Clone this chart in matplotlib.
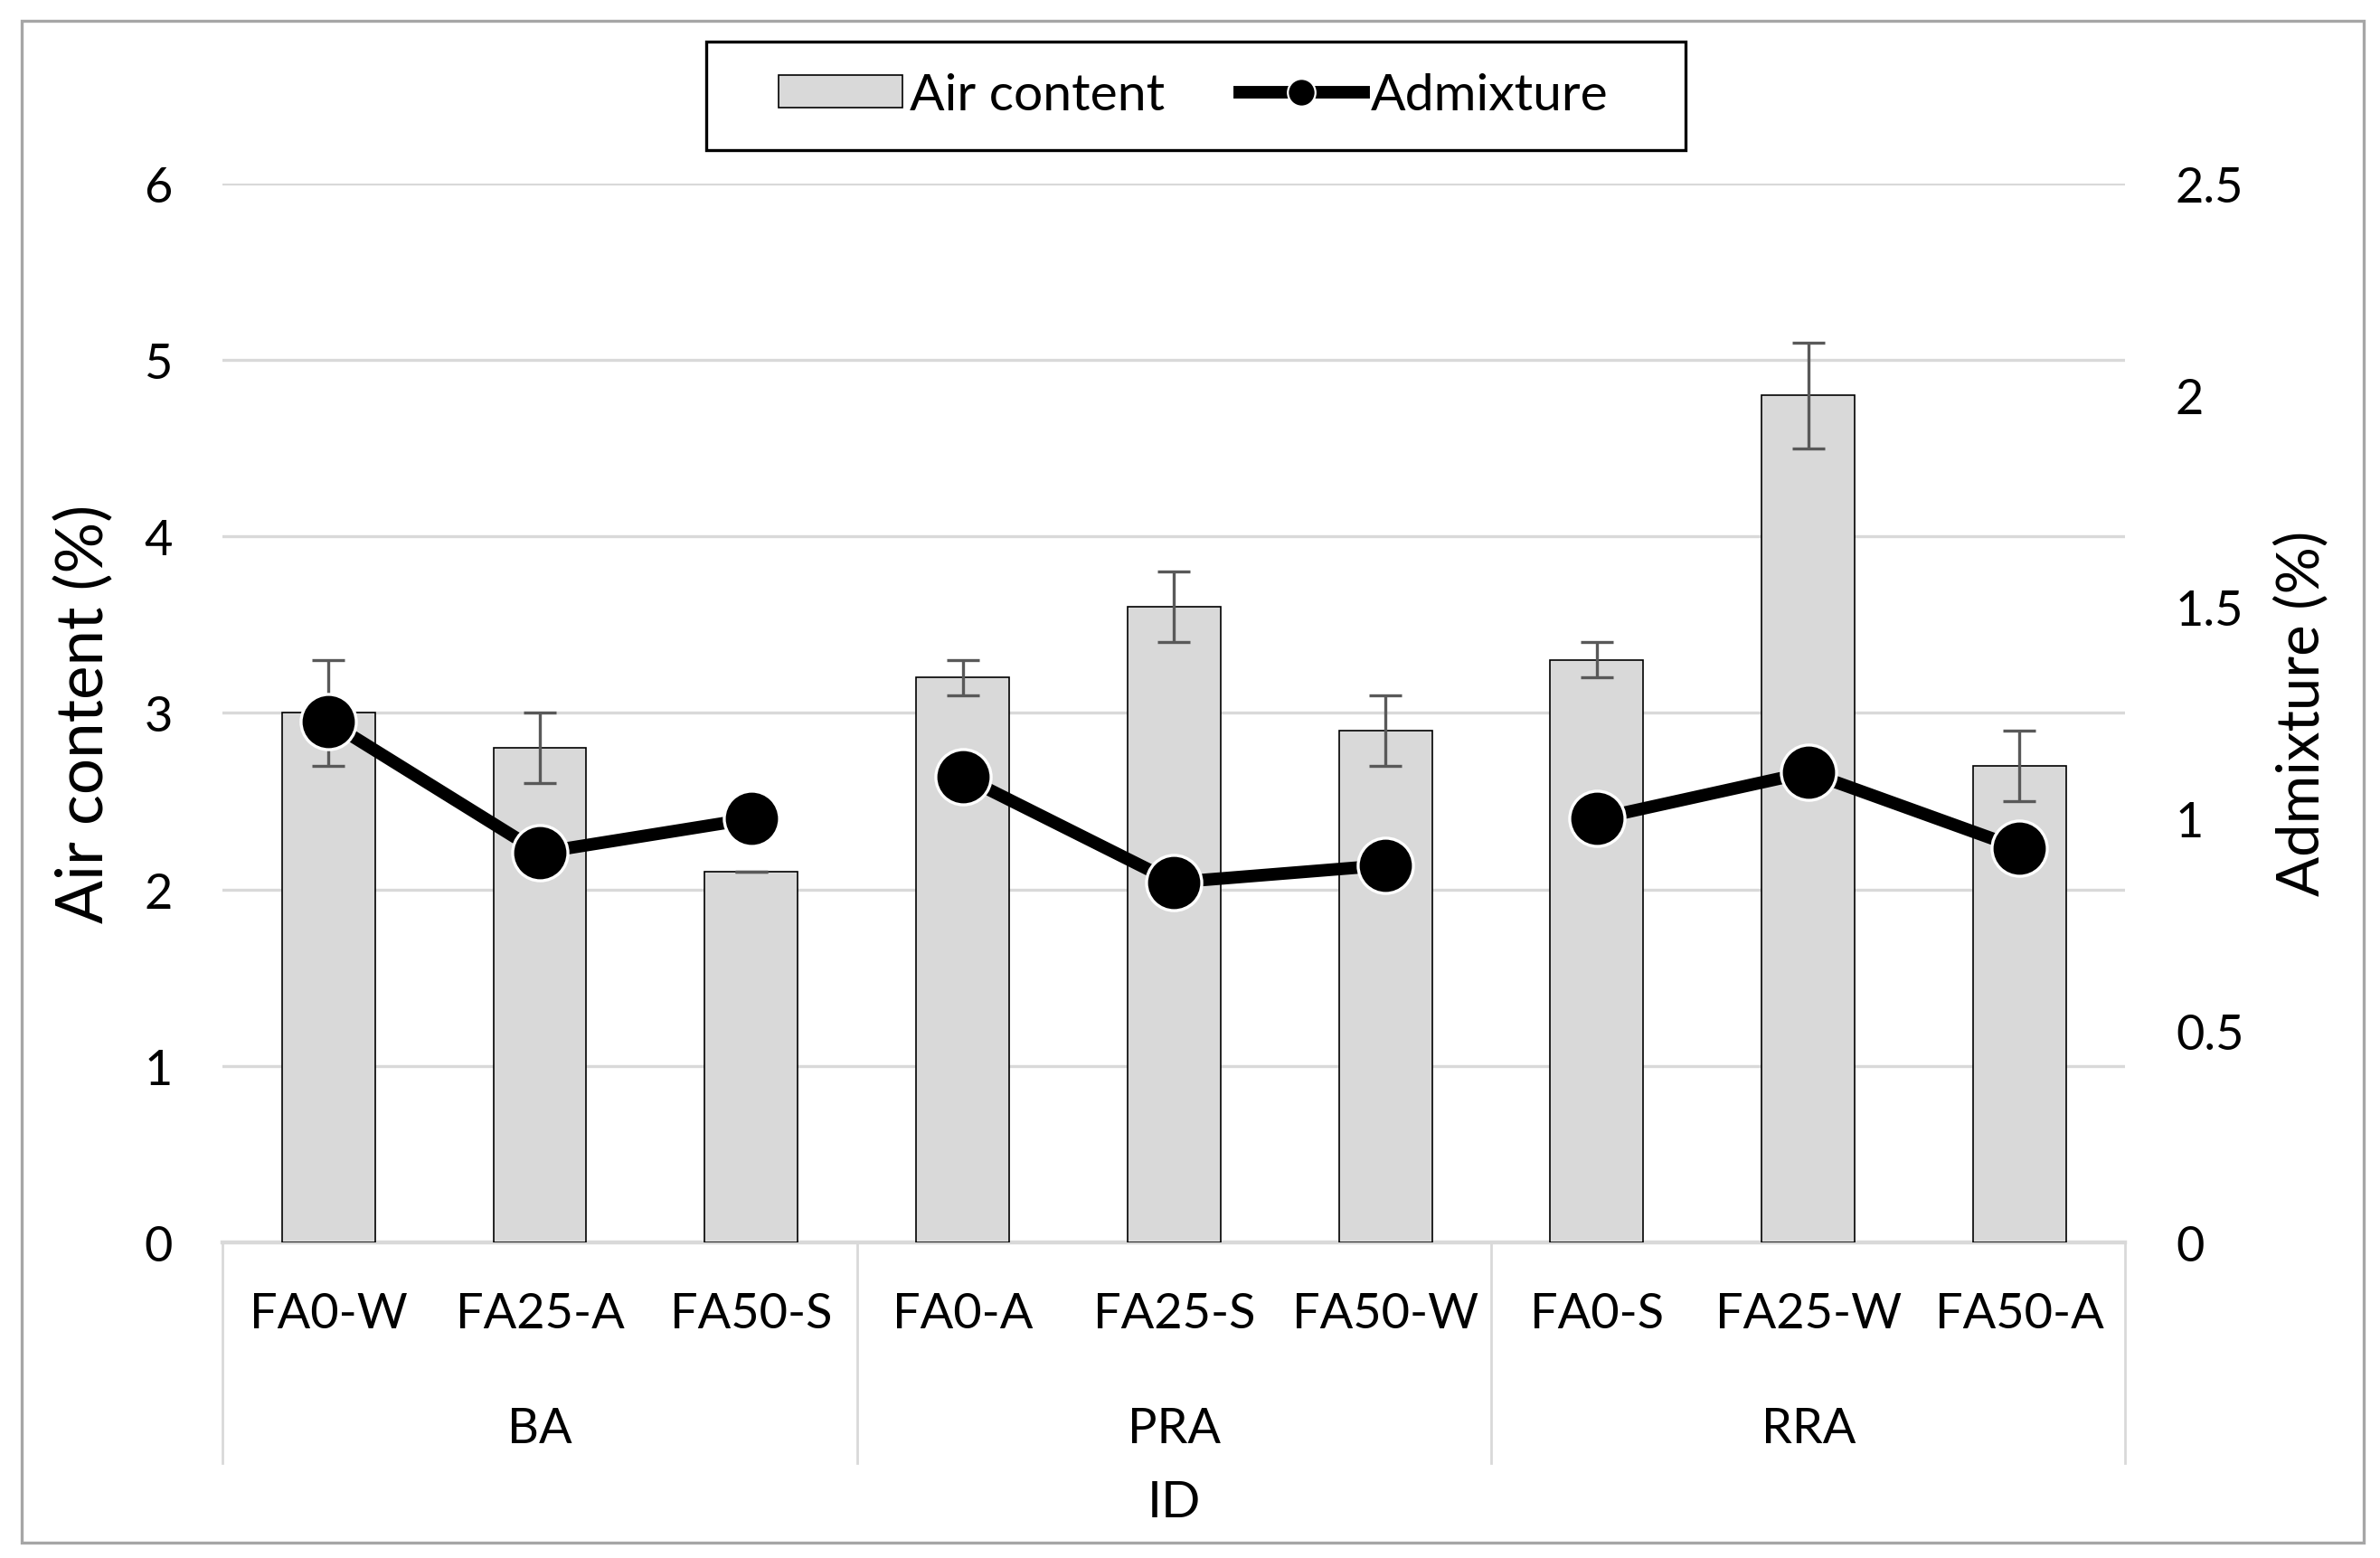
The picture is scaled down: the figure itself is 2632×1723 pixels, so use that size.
import matplotlib
matplotlib.use("Agg")
import matplotlib.pyplot as plt
import matplotlib.transforms as mtransforms
from matplotlib.lines import Line2D
from matplotlib.patches import Patch, Rectangle
import numpy as np

plt.rcParams["font.family"] = ["Lato", "DejaVu Sans"]

groups = ["BA", "PRA", "RRA"]
ids = ["FA0-W", "FA25-A", "FA50-S", "FA0-A", "FA25-S", "FA50-W", "FA0-S", "FA25-W", "FA50-A"]
air_content = [3.0, 2.8, 2.1, 3.2, 3.6, 2.9, 3.3, 4.8, 2.7]
air_err = [0.3, 0.2, 0.0, 0.1, 0.2, 0.2, 0.1, 0.3, 0.2]
admixture = [1.23, 0.92, 1.0, 1.10, 0.85, 0.89, 1.0, 1.11, 0.93]

GRID = "#D9D9D9"
BAR = "#D9D9D9"

fig = plt.figure(figsize=(13.16, 8.62), dpi=200)
ax = fig.add_axes([0.0936, 0.2026, 0.7994, 0.679])
ax2 = ax.twinx()

x = np.arange(len(ids))
ax.bar(x, air_content, width=0.44, color=BAR, edgecolor="black", linewidth=0.6, zorder=2)
ax.errorbar(x, air_content, yerr=air_err, fmt="none", ecolor="#595959",
            elinewidth=1.2, capsize=6.5, capthick=1.2, zorder=3)

for g in range(len(groups)):
    sl = slice(3 * g, 3 * g + 3)
    ax2.plot(x[sl], admixture[sl], color="black", linewidth=5, marker="o",
             markersize=22, markerfacecolor="black", markeredgecolor="white",
             markeredgewidth=1.2, zorder=4)

ax.set_xlim(-0.5, len(ids) - 0.5)
ax.set_ylim(0, 6)
ax.set_yticks(range(0, 7))
ax2.set_ylim(0, 2.5)
ax2.set_yticks([0, 0.5, 1, 1.5, 2, 2.5])
ax2.set_yticklabels(["0", "0.5", "1", "1.5", "2", "2.5"])

ax.grid(axis="y", color=GRID, linewidth=1.2, zorder=0)
ax.set_axisbelow(True)
for a in (ax, ax2):
    for s in ("top", "left", "right", "bottom"):
        a.spines[s].set_visible(False)
ax.tick_params(axis="y", length=0, pad=20, labelsize=19.5)
ax2.tick_params(axis="y", length=0, pad=20, labelsize=19.5)
ax.set_xticks([])

ax.set_ylabel("Air content (%)", fontsize=25.5)
ax.yaxis.set_label_coords(-0.057, 0.5)
ax2.set_ylabel("Admixture (%)", fontsize=23.5)
ax2.yaxis.set_label_coords(1.078, 0.5)

# hierarchical category axis
trans = mtransforms.blended_transform_factory(ax.transData, ax.transAxes)
ax.plot([-0.5, len(ids) - 0.5], [0, 0], transform=trans, color=GRID,
        linewidth=1.6, clip_on=False, zorder=1)
for b in [-0.5, 2.5, 5.5, 8.5]:
    ax.plot([b, b], [0, -0.209], transform=trans, color=GRID, linewidth=1.0,
            clip_on=False)
for i, name in enumerate(ids):
    ax.text(i, -0.0677, name, transform=trans, ha="center", va="center", fontsize=19.5)
for g, name in enumerate(groups):
    ax.text(3 * g + 1, -0.176, name, transform=trans, ha="center", va="center", fontsize=19.5)
ax.text(0.5, -0.246, "ID", transform=ax.transAxes, ha="center", va="center", fontsize=20.5)

handles = [
    Patch(facecolor=BAR, edgecolor="black", linewidth=0.6),
    Line2D([0], [0], color="black", linewidth=5, marker="o", markersize=11,
           markerfacecolor="black", markeredgecolor="white", markeredgewidth=0.8),
]
leg = fig.legend(handles, ["Air content", "Admixture"], loc="center",
                 bbox_to_anchor=(0.5015, 0.938), ncol=2, fontsize=20.5,
                 frameon=False, handlelength=2.4, handleheight=0.6,
                 handletextpad=0.15, columnspacing=1.45, borderaxespad=0)

# legend box
fig.patches.append(Rectangle((0.2968, 0.9031), 0.4115, 0.0695, transform=fig.transFigure,
                             fill=False, edgecolor="black", linewidth=1.2))
# outer chart border
fig.patches.append(Rectangle((0.009, 0.0098), 0.984, 0.976, transform=fig.transFigure,
                             fill=False, edgecolor="#A6A6A6", linewidth=1.2))

fig.savefig("out.png", dpi=200)
